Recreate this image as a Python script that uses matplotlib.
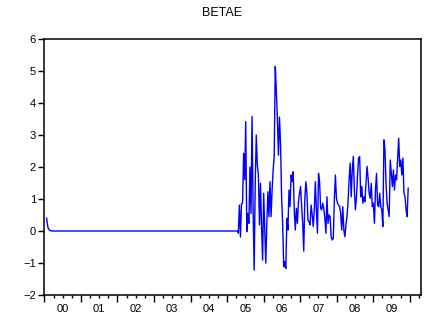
import numpy as np
import matplotlib
matplotlib.use("Agg")
import matplotlib.pyplot as plt
from matplotlib.ticker import FixedLocator, NullFormatter, FixedFormatter

plt.rcParams["font.family"] = ["Liberation Sans", "DejaVu Sans"]

# BETAE: initial decay, then zero until the estimation window starts
early_years = [2000.06, 2000.08, 2000.10, 2000.13, 2000.17, 2000.22, 2005.30]
early_vals = [0.40, 0.22, 0.10, 0.04, 0.01, 0.0, 0.0]

# active part of the series, evenly spaced from 2005.31 to 2009.96
active_start, active_end = 2005.31, 2009.96
active_vals = [
    -0.07, 0.81, -0.19, 0.85, 0.87, 2.43, 1.60, 3.42, -0.02, 0.55,
    0.24, 2.00, 0.55, 3.58, 0.66, -1.22, 1.49, 3.00, 2.06, 1.75,
    0.19, 1.49, 0.14, -0.91, 1.18, 0.03, -1.00, 0.24, 1.23, 0.45,
    1.54, 0.45, 1.28, 1.91, 2.33, 5.14, 4.40, 3.52, 2.37, 3.56,
    2.73, 1.07, 0.24, -1.12, -0.96, -1.17, 0.40, 0.03, 1.28, 0.76,
    1.75, 1.54, 1.85, 0.66, 0.03, 0.71, 0.24, 0.92, 1.18, 1.39,
    0.76, 0.24, -0.63, 0.97, 1.54, 1.18, 0.34, 0.29, 0.19, 0.81,
    0.50, 0.14, 0.66, 1.54, 0.66, -0.07, 1.80, 1.54, 0.71, 0.66,
    0.87, 0.71, 0.40, -0.07, 1.07, 0.24, 0.50, 0.45, -0.18, -0.28,
    -0.23, 0.97, 1.75, 1.02, 0.87, 0.81, 0.76, 0.55, 0.03, 0.76,
    0.03, -0.18, 0.19, 0.45, 0.92, 1.60, 2.12, 1.07, 1.91, 2.33,
    1.28, 0.66, 1.07, 1.75, 2.28, 2.33, 1.07, 1.39, 0.87, 1.07,
    0.92, 1.49, 2.02, 1.65, 1.18, 1.02, 1.49, 0.76, 0.87, 0.24,
    1.28, 1.80, 0.81, 0.76, 1.18, 0.76, 0.66, 0.14, 2.85, 2.54,
    1.49, 0.87, 0.66, 0.45, 2.22, 1.80, 1.39, 1.91, 1.28, 1.75,
    1.60, 2.22, 2.90, 2.02, 2.22, 1.75, 2.28, 1.18, 1.07, 0.66,
    0.45, 1.34,
]

year_labels = ["00", "01", "02", "03", "04", "05", "06", "07", "08", "09"]

active_years = np.linspace(active_start, active_end, len(active_vals))
x = np.concatenate([early_years, active_years])
y = np.concatenate([early_vals, active_vals])

fig = plt.figure(figsize=(4.27, 3.28), dpi=100)
ax = fig.add_axes([0.104, 0.1006, 0.881, 0.7804])

ax.plot(x, y, color="#0000ff", lw=1.0)

ax.set_xlim(2000.0, 2010.3)
ax.set_ylim(-2, 6)

# year boundaries as major ticks, quarters as minor, labels mid-year
ax.xaxis.set_major_locator(FixedLocator(np.arange(2000, 2011)))
ax.xaxis.set_major_formatter(NullFormatter())
ax.xaxis.set_minor_locator(FixedLocator(np.arange(2000, 2010.3, 0.25)))
ax.xaxis.set_minor_formatter(NullFormatter())
ax.tick_params(axis="x", which="major", length=5, width=1.0, direction="out")
ax.tick_params(axis="x", which="minor", length=2.5, width=1.0, direction="out")
for i, lab in enumerate(year_labels):
    ax.text(2000.5 + i, -0.035, lab, transform=ax.get_xaxis_transform(),
            ha="center", va="top", fontsize=8)

ax.set_yticks(np.arange(-2, 7, 1))
ax.tick_params(axis="y", length=4, width=1.0, direction="out", labelsize=8, pad=2)

for s in ax.spines.values():
    s.set_linewidth(1.1)

fig.text(222 / 427, 1 - 12.5 / 328, "BETAE", ha="center", va="center", fontsize=9)

fig.savefig("out.png", dpi=100)
